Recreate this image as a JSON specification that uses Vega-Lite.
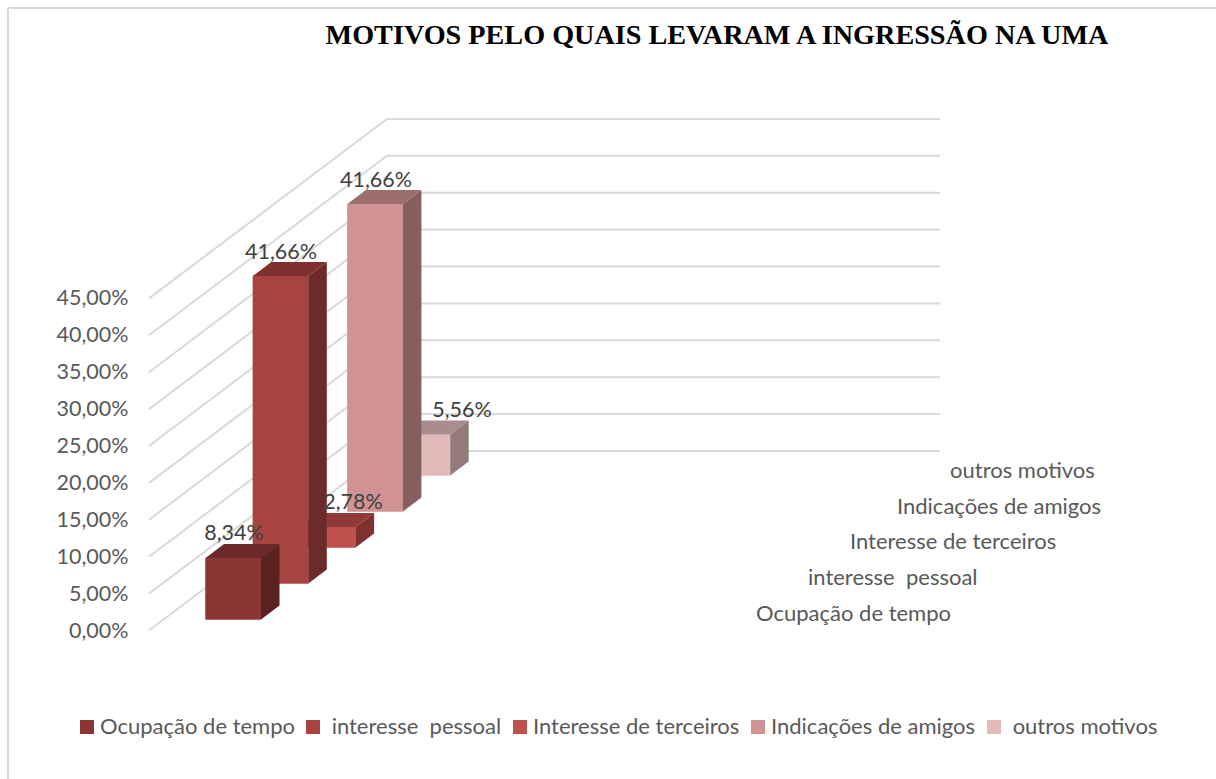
{
"$schema":"https://vega.github.io/schema/vega-lite/v6.json",
"width":1216,"height":779,"padding":0,"autosize":{"type":"none"},
"background":"white",
"title":{"text":"MOTIVOS PELO QUAIS LEVARAM A INGRESSÃO NA UMA","font":"Liberation Serif","fontSize":28.2,"fontWeight":"bold","color":"black","anchor":"middle","frame":"group","dx":109,"offset":-50},
"config":{"view":{"stroke":null}},
"datasets":{
"motivos":[
{"Motivo":"outros motivos","Valor":5.56,"ordem":4},
{"Motivo":"Indicações de amigos","Valor":41.66,"ordem":3},
{"Motivo":"Interesse de terceiros","Valor":2.78,"ordem":2},
{"Motivo":"interesse  pessoal","Valor":41.66,"ordem":1},
{"Motivo":"Ocupação de tempo","Valor":8.34,"ordem":0}
],
"marcas":[{"v":0},{"v":5},{"v":10},{"v":15},{"v":20},{"v":25},{"v":30},{"v":35},{"v":40},{"v":45}]
},
"layer":[
{"data":{"name":"marcas"},
"transform":[{"calculate":"[0,1,2]","as":"p"},{"flatten":["p"]},
{"calculate":"[149,387,940][datum.p]","as":"x"},
{"calculate":"datum.v+[0,1,1][datum.p]*179.5/7.38","as":"y"}],
"mark":{"type":"line","stroke":"#d9d9d9","strokeWidth":2,"interpolate":"linear"},
"encoding":{
"x":{"field":"x","type":"quantitative","scale":{"domain":[0,1216],"nice":false,"zero":false},"axis":null},
"y":{"field":"y","type":"quantitative","scale":{"domain":[-20.12,85.43],"nice":false,"zero":false},
"axis":{"values":[0,5,10,15,20,25,30,35,40,45],"title":null,"domain":false,"ticks":false,"grid":false,"offset":-134,"labelPadding":6,"labelOffset":0.5,"labelFont":"Lato","labelFontSize":21.5,"labelColor":"#595959","labelExpr":"replace(format(datum.value,'.2f'),'.',',')+'%'"}},
"detail":{"field":"v","type":"nominal"},
"order":{"field":"p","type":"quantitative"}
}},
{"data":{"name":"motivos"},
"transform":[
{"calculate":"205.5+47.3*datum.ordem","as":"x0"},
{"calculate":"datum.x0+55.5","as":"x1"},
{"calculate":"(11+36*datum.ordem)/7.38","as":"base"},
{"calculate":"datum.base+datum.Valor","as":"topo"}],
"mark":{"type":"rect"},
"encoding":{
"x":{"field":"x0","type":"quantitative"},
"x2":{"field":"x1"},
"y":{"field":"base","type":"quantitative"},
"y2":{"field":"topo"},
"fill":{"field":"Motivo","type":"nominal","scale":{"domain":["Ocupação de tempo","interesse  pessoal","Interesse de terceiros","Indicações de amigos","outros motivos"],"range":["#8b3635","#a84440","#c0504d","#d09292","#e2baba"]},
"legend":{"orient":"none","legendX":76,"legendY":716,"direction":"horizontal","columns":5,"title":null,"symbolType":"square","symbolSize":196,"symbolStrokeWidth":0,"labelFont":"Lato","labelFontSize":22,"labelColor":"#595959","labelOffset":2,"labelLimit":400,"columnPadding":7,"labelExpr":"((datum.label=='outros motivos'||indexof(datum.label,'interesse')==0)?'\u200b\u00a0':'')+replace(datum.label,'  ','\u00a0\u00a0')"}}
}},
{"data":{"name":"motivos"},
"transform":[
{"calculate":"[0,1,2]","as":"f"},{"flatten":["f"]},
{"calculate":"[0,1,2,3]","as":"w"},{"flatten":["w"]},
{"calculate":"[[0,1,1,0],[1,1,1,1],[0,1,1,0]][datum.f][datum.w]","as":"u"},
{"calculate":"[[0,0,0,0],[0,1,1,0],[0,0,1,1]][datum.f][datum.w]","as":"d"},
{"calculate":"[[0,0,1,1],[0,0,1,1],[1,1,1,1]][datum.f][datum.w]","as":"h"},
{"calculate":"205.5+47.3*datum.ordem+55.5*datum.u+18.5*datum.d","as":"x"},
{"calculate":"(11+36*datum.ordem)/7.38+datum.Valor*datum.h+datum.d*14/7.38","as":"y"},
{"calculate":"datum.ordem+'-'+datum.f","as":"face"}],
"mark":{"type":"line","filled":true,"strokeWidth":0,"interpolate":"linear"},
"encoding":{
"x":{"field":"x","type":"quantitative"},
"y":{"field":"y","type":"quantitative"},
"fill":{"field":"face","type":"nominal","legend":null,"scale":{
"domain":["0-0","0-1","0-2","1-0","1-1","1-2","2-0","2-1","2-2","3-0","3-1","3-2","4-0","4-1","4-2"],
"range":["#8b3635","#592120","#6b2a29","#a84440","#6c2a28","#7f302e","#c0504d","#7f312f","#8f3a38","#d09292","#855f5f","#9c6e6e","#e2baba","#917b7b","#aa8c8c"]}},
"detail":{"field":"face","type":"nominal"},
"order":{"field":"w","type":"quantitative"}
}},
{"data":{"name":"motivos"},
"transform":[
{"calculate":"205.5+47.3*datum.ordem+[28.5,28.2,52.9,28.6,67.3][datum.ordem]","as":"x"},
{"calculate":"(11+36*datum.ordem+25.5)/7.38+datum.Valor","as":"y"},
{"calculate":"replace(format(datum.Valor,'.2f'),'.',',')+'%'","as":"rotulo"}],
"mark":{"type":"text","font":"Lato","fontSize":21.5,"color":"#404040","align":"center","baseline":"middle","dy":2},
"encoding":{
"x":{"field":"x","type":"quantitative"},
"y":{"field":"y","type":"quantitative"},
"text":{"field":"rotulo","type":"nominal"}
}},
{"data":{"name":"motivos"},
"transform":[
{"calculate":"[756,808,850,897,950][datum.ordem]","as":"x"},
{"calculate":"(17.8+35.7*datum.ordem)/7.38","as":"y"},
{"calculate":"replace(datum.Motivo,'  ','\u00a0\u00a0')","as":"nome"}],
"mark":{"type":"text","font":"Lato","fontSize":22,"color":"#595959","align":"left","baseline":"middle","dy":1},
"encoding":{
"x":{"field":"x","type":"quantitative"},
"y":{"field":"y","type":"quantitative"},
"text":{"field":"nome","type":"nominal"}
}},
{"data":{"values":[{}]},
"mark":{"type":"rule","stroke":"#d9d9d9","strokeWidth":2},
"encoding":{"x":{"datum":8},"y":{"datum":84.35},"y2":{"datum":-20.12}}},
{"data":{"values":[{}]},
"mark":{"type":"rule","stroke":"#d9d9d9","strokeWidth":2},
"encoding":{"x":{"datum":8},"x2":{"datum":1216},"y":{"datum":84.35}}}
],
"resolve":{"scale":{"fill":"independent"}}
}
